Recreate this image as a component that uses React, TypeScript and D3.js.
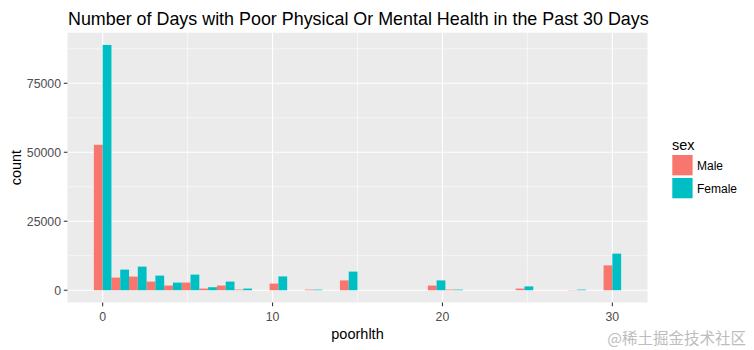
import React from "react";
import * as d3 from "d3";

// 30 histogram bins (ggplot default bins = 30 over 0..30), counts per sex
const binIndex: number[] = d3.range(30);
const maleCounts: number[] = [
  52700, 4580, 4950, 3140, 1690, 2770, 600, 1690, 240, 0,
  2410, 0, 240, 0, 3560, 0, 0, 0, 0, 1690,
  240, 0, 0, 0, 600, 0, 0, 90, 0, 9000,
];
const femaleCounts: number[] = [
  88880, 7480, 8560, 5300, 2770, 5670, 1090, 3140, 600, 0,
  5000, 0, 240, 0, 6750, 0, 0, 0, 0, 3560,
  240, 0, 0, 0, 1400, 0, 0, 240, 0, 13270,
];
const sexes: string[] = ["Male", "Female"];
const sexColors: string[] = ["#F8766D", "#00BFC4"];
const xTicks: number[] = [0, 10, 20, 30];
const xMinorTicks: number[] = [5, 15, 25];
const yTicks: number[] = [0, 25000, 50000, 75000];
const yMinorTicks: number[] = [12500, 37500, 62500, 87500];

const title = "Number of Days with Poor Physical Or Mental Health in the Past 30 Days";
const xTitle = "poorhlth";
const yTitle = "count";
const legendTitle = "sex";
const watermark = "@稀土掘金技术社区";

const W = 754;
const H = 350;
const panel = { left: 67.5, right: 647.5, top: 32.7, bottom: 302.5 };
const FONT = "'Liberation Sans', Arial, Helvetica, sans-serif";

export default function App() {
  const bw = 30 / 29;
  const xLo = -bw / 2;
  const xHi = 30 + bw / 2;
  const xPad = (xHi - xLo) * 0.05;
  const x = d3.scaleLinear().domain([xLo - xPad, xHi + xPad]).range([panel.left, panel.right]);

  const yMax = d3.max([...maleCounts, ...femaleCounts]) as number;
  const y = d3
    .scaleLinear()
    .domain([-yMax * 0.05, yMax * 1.05])
    .range([panel.bottom, panel.top]);

  const series = [maleCounts, femaleCounts];
  const yMinorIn = yMinorTicks.filter((v) => y(v) >= panel.top);

  return (
    <svg
      width={W}
      height={H}
      viewBox={`0 0 ${W} ${H}`}
      style={{ position: "absolute", left: 0, top: 0, background: "#fff", fontFamily: FONT }}
    >
      <rect x={0} y={0} width={W} height={H} fill="#ffffff" />
      {/* panel */}
      <rect
        x={panel.left}
        y={panel.top}
        width={panel.right - panel.left}
        height={panel.bottom - panel.top}
        fill="#EBEBEB"
      />
      {/* minor grid */}
      {yMinorIn.map((v) => (
        <line key={"ym" + v} x1={panel.left} x2={panel.right} y1={y(v)} y2={y(v)} stroke="#fff" strokeWidth={0.55} />
      ))}
      {xMinorTicks.map((v) => (
        <line key={"xm" + v} x1={x(v)} x2={x(v)} y1={panel.top} y2={panel.bottom} stroke="#fff" strokeWidth={0.55} />
      ))}
      {/* major grid */}
      {yTicks.map((v) => (
        <line key={"yM" + v} x1={panel.left} x2={panel.right} y1={y(v)} y2={y(v)} stroke="#fff" strokeWidth={1.1} />
      ))}
      {xTicks.map((v) => (
        <line key={"xM" + v} x1={x(v)} x2={x(v)} y1={panel.top} y2={panel.bottom} stroke="#fff" strokeWidth={1.1} />
      ))}
      {/* bars */}
      {series.map((vals, si) =>
        binIndex.map((k) => {
          const c = k * bw;
          const x0 = si === 0 ? c - bw / 2 : c;
          const x1 = si === 0 ? c : c + bw / 2;
          const v = vals[k];
          if (!v) return null;
          return (
            <rect
              key={si + "-" + k}
              x={x(x0)}
              width={x(x1) - x(x0)}
              y={y(v)}
              height={y(0) - y(v)}
              fill={sexColors[si]}
            />
          );
        })
      )}
      {/* y axis ticks & labels */}
      {yTicks.map((v) => (
        <g key={"yt" + v}>
          <line x1={panel.left - 3.7} x2={panel.left} y1={y(v)} y2={y(v)} stroke="#333333" strokeWidth={1.07} />
          <text x={panel.left - 6.5} y={y(v)} dy="0.36em" textAnchor="end" fontSize={12.3} fill="#4D4D4D">
            {v}
          </text>
        </g>
      ))}
      {/* x axis ticks & labels */}
      {xTicks.map((v) => (
        <g key={"xt" + v}>
          <line x1={x(v)} x2={x(v)} y1={panel.bottom} y2={panel.bottom + 3.7} stroke="#333333" strokeWidth={1.07} />
          <text x={x(v)} y={panel.bottom + 18} textAnchor="middle" fontSize={12.3} fill="#4D4D4D">
            {v}
          </text>
        </g>
      ))}
      {/* axis titles */}
      <text x={(panel.left + panel.right) / 2} y={338.5} textAnchor="middle" fontSize={14.5} fill="#000">
        {xTitle}
      </text>
      <text
        transform={`translate(${20.5},${(panel.top + panel.bottom) / 2}) rotate(-90)`}
        textAnchor="middle"
        fontSize={14.5}
        fill="#000"
      >
        {yTitle}
      </text>
      {/* title */}
      <text x={panel.left + 0.5} y={24.5} fontSize={17.9} fill="#000">
        {title}
      </text>
      {/* legend */}
      <text x={672} y={150} fontSize={14.5} fill="#000">
        {legendTitle}
      </text>
      {sexes.map((s, i) => (
        <g key={s}>
          <rect x={672.3} y={155 + i * 23} width={20.3} height={20.3} fill={sexColors[i]} />
          <text x={697} y={155 + i * 23 + 10.2} dy="0.36em" fontSize={12} fill="#000">
            {s}
          </text>
        </g>
      ))}
      {/* watermark */}
      <text x={746} y={344} textAnchor="end" fontSize={15.5} fill="#BDBDBD" fontFamily="'Noto Sans CJK SC', sans-serif">
        {watermark}
      </text>
    </svg>
  );
}
